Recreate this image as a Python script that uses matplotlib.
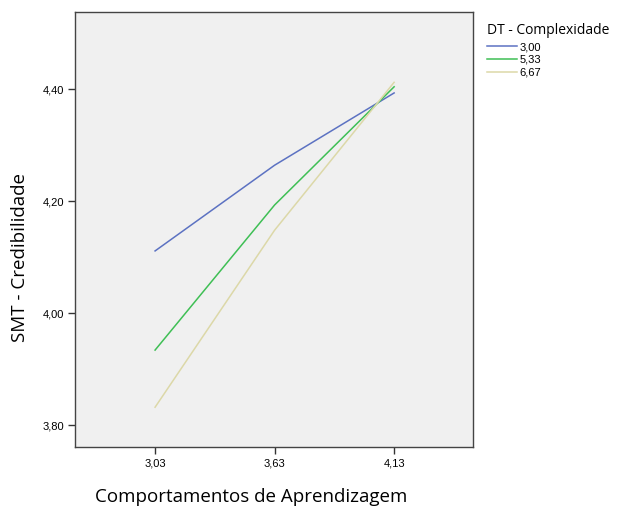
import matplotlib
matplotlib.use('Agg')
import matplotlib.pyplot as plt
import numpy as np

categorias = ['3,03', '3,63', '4,13']
niveis = ['3,00', '5,33', '6,67']
valores_300 = [4.111, 4.264, 4.393]
valores_533 = [3.934, 4.193, 4.404]
valores_667 = [3.832, 4.148, 4.412]
cores = ['#5c72c2', '#3fbf55', '#dcd8a8']
yticks = [3.80, 4.00, 4.20, 4.40]

fig = plt.figure(figsize=(6.2, 5.08), dpi=100)
ax = fig.add_axes([75/620, 1 - 447/508, (473-75)/620, (447-12)/508])
ax.set_facecolor('#f0f0f0')

x = np.arange(len(categorias))
for serie, nome, cor in zip([valores_300, valores_533, valores_667], niveis, cores):
    ax.plot(x, serie, color=cor, lw=1.1, label=nome)

ax.set_xlim(-0.67, 2.66)
ax.set_ylim(3.761, 4.5375)
ax.set_xticks(x)
ax.set_xticklabels(categorias, fontsize=8, family='Liberation Sans')
ax.set_yticks(yticks)
ax.set_yticklabels([f'{v:.2f}'.replace('.', ',') for v in yticks], fontsize=8, family='Liberation Sans')
ax.tick_params(length=5, width=1, color='#333333', pad=3)
for s in ax.spines.values():
    s.set_color('#444444')
    s.set_linewidth(1)

fig.text(251/620, 1 - 497/508, 'Comportamentos de Aprendizagem', ha='center', va='center',
         fontsize=13.5, family='Open Sans')
fig.text(20/620, 1 - 257/508, 'SMT - Credibilidade', ha='center', va='center', rotation=90,
         fontsize=13.5, family='Open Sans')

leg = fig.legend(loc='upper left', bbox_to_anchor=(487/620, 1 - 23/508), frameon=False,
                 title='DT - Complexidade', prop={'family': 'Liberation Sans', 'size': 8},
                 handlelength=2.7, handletextpad=0.2, labelspacing=0.25, borderpad=0,
                 borderaxespad=0, alignment='left')
leg.get_title().set_fontsize(10)
leg.get_title().set_family('Open Sans')
leg._legend_box.sep = 3

fig.savefig('out.png', dpi=100)
